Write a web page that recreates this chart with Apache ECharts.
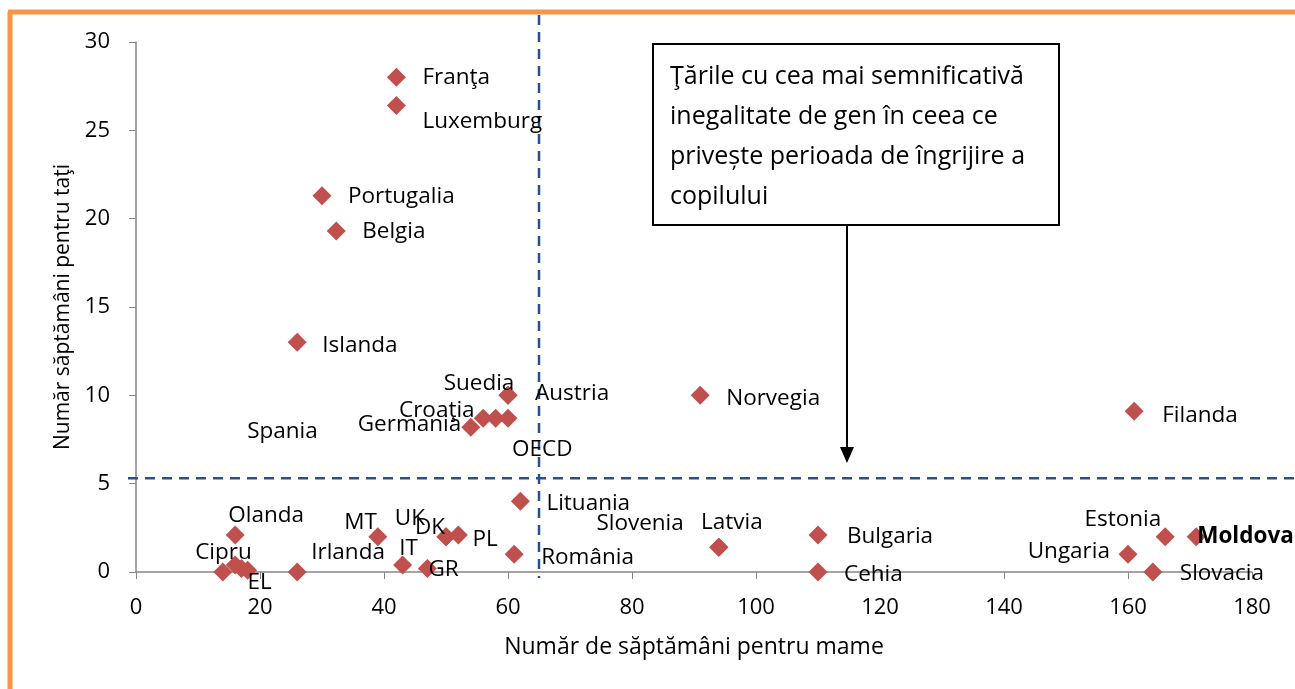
<!DOCTYPE html>
<html>
<head>
<meta charset="utf-8">
<script src="https://cdn.jsdelivr.net/npm/echarts@6/dist/echarts.min.js"></script>
<style>
  html, body { margin: 0; padding: 0; background: #fff; }
  #chart { width: 1295px; height: 689px; }
</style>
</head>
<body>
<div id="chart"></div>
<script>
// date: săptămâni pentru mame (x) și pentru taţi (y)
const countries = ['Franţa', 'Luxemburg', 'Portugalia', 'Belgia', 'Islanda', 'Suedia', 'Austria', 'Norvegia',
    'Filanda', 'Spania', 'Germania', 'Croaţia', 'OECD', 'Lituania', 'România', 'UK', 'DK', 'PL', 'MT', 'IT',
    'GR', 'Irlanda', 'Olanda', 'Cipru', '', '', 'EL', 'Slovenia', 'Latvia', 'Bulgaria', 'Cehia', 'Estonia',
    'Moldova', 'Ungaria', 'Slovacia'];
const weeksMothers = [42, 42, 30, 32.3, 26, 60, 60, 91,
    161, 54, 56, 58, 60, 62, 61, 50, 50, 52, 39, 43,
    47, 26, 16, 14, 16, 17, 18, 94, 94, 110, 110, 166,
    171, 160, 164];
const weeksFathers = [28, 26.4, 21.3, 19.3, 13, 10, 10, 10,
    9.1, 8.2, 8.7, 8.7, 8.7, 4, 1, 2, 2, 2.1, 2, 0.4,
    0.2, 0, 2.1, 0, 0.4, 0.2, 0.1, 1.4, 1.4, 2.1, 0, 2,
    2, 1, 0];
const xTicks = [0, 20, 40, 60, 80, 100, 120, 140, 160, 180];
const yTicks = [0, 5, 10, 15, 20, 25, 30];
// pragurile (liniile punctate)
const refMothers = 65;
const refFathers = 5.3;

// poziţia etichetelor: [dx, dy, aliniere]
const labelPos = {
    'Franţa': [26, 0, 'left'], 'Luxemburg': [26, 16, 'left'], 'Portugalia': [26, 1, 'left'],
    'Belgia': [26, 1, 'left'], 'Islanda': [25, 3, 'left'], 'Suedia': [-29, -12, 'center'],
    'Austria': [27, -2, 'left'], 'Norvegia': [26, 3, 'left'], 'Filanda': [28, 4, 'left'],
    'Spania': [-153, 4, 'right'], 'Germania': [-22, 6, 'right'], 'Croaţia': [-21, -8, 'right'],
    'OECD': [4, 31, 'left'], 'Lituania': [26, 2, 'left'], 'România': [27, 3, 'left'],
    'UK': [-21, -18, 'right'], 'DK': [-1, -9, 'right'], 'PL': [14, 5, 'left'],
    'MT': [-1, -14, 'right'], 'IT': [6, -16, 'center'], 'GR': [1, 1, 'left'],
    'Irlanda': [14, -19, 'left'], 'Olanda': [-7, -19, 'left'], 'Cipru': [29, -19, 'right'],
    'EL': [0, 12, 'left'], 'Slovenia': [-35, -24, 'right'], 'Latvia': [13, -25, 'center'],
    'Bulgaria': [29, 2, 'left'], 'Cehia': [26, 3, 'left'], 'Estonia': [-4, -17, 'right'],
    'Moldova': [1, 0, 'left'], 'Ungaria': [-18, -3, 'right'], 'Slovacia': [27, 2, 'left']
};

const FONT = 'Open Sans';

const points = countries.map((name, i) => {
    const pos = labelPos[name];
    const item = { name: name, value: [weeksMothers[i], weeksFathers[i]] };
    if (pos) {
        item.label = {
            show: true, position: 'inside', offset: [pos[0], pos[1]], align: pos[2],
            verticalAlign: 'middle', formatter: '{b}', color: '#000',
            fontFamily: FONT, fontSize: 22.5, fontWeight: name === 'Moldova' ? 'bold' : 'normal'
        };
    } else {
        item.label = { show: false };
    }
    return item;
});

const chart = echarts.init(document.getElementById('chart'));

const option = {
    animation: false,
    backgroundColor: '#fff',
    grid: { left: 136, right: 43, top: 42, bottom: 117 },
    xAxis: {
        type: 'value', min: 0, max: 180, interval: 20,
        name: 'Număr de săptămâni pentru mame', nameLocation: 'middle', nameGap: 64,
        nameTextStyle: { fontFamily: FONT, fontSize: 23, color: '#000' },
        axisLine: { show: true, onZero: false, lineStyle: { color: '#868686', width: 1.5 } },
        axisTick: { show: true, length: 7, lineStyle: { color: '#868686' } },
        axisLabel: { margin: 25, fontFamily: FONT, fontSize: 22, color: '#000',
            formatter: v => xTicks.includes(v) ? String(v) : '' },
        splitLine: { show: false }
    },
    yAxis: {
        type: 'value', min: 0, max: 30, interval: 5,
        name: 'Număr săptămâni pentru taţi', nameLocation: 'middle', nameGap: 62,
        nameTextStyle: { fontFamily: FONT, fontSize: 21, color: '#000' },
        axisLine: { show: true, onZero: false, lineStyle: { color: '#868686', width: 1.5 } },
        axisTick: { show: true, length: 7, lineStyle: { color: '#868686' } },
        axisLabel: { margin: 26, fontFamily: FONT, fontSize: 22, color: '#000',
            formatter: v => yTicks.includes(v) ? String(v) : '' },
        splitLine: { show: false }
    },
    series: [
        {
            type: 'scatter', symbol: 'diamond', symbolSize: 19, z: 3,
            itemStyle: { color: '#C0504D', opacity: 1 },
            data: points
        }
    ]
};

chart.setOption(option);

// liniile punctate ale pragurilor, poziţionate prin scala axelor
const vx = chart.convertToPixel({ gridIndex: 0 }, [refMothers, 0]);
const hy = chart.convertToPixel({ gridIndex: 0 }, [0, refFathers]);
const dash = { stroke: '#27508F', lineWidth: 2.5, lineDash: [10, 7] };

chart.setOption({
    graphic: [
        { type: 'line', z: 1, shape: { x1: vx[0], y1: 15, x2: vx[0], y2: vx[1] + 6 }, style: dash },
        { type: 'line', z: 1, shape: { x1: hy[0] - 8, y1: hy[1], x2: 1295, y2: hy[1] }, style: dash },
        // chenar portocaliu
        { type: 'line', shape: { x1: 10, y1: 12, x2: 10, y2: 689 }, style: { stroke: '#F79646', lineWidth: 5 }, z: 10 },
        { type: 'line', shape: { x1: 8, y1: 12, x2: 1295, y2: 12 }, style: { stroke: '#F79646', lineWidth: 5 }, z: 10 },
        // caseta de text
        { type: 'rect', shape: { x: 653, y: 44, width: 406, height: 181 },
          style: { fill: '#fff', stroke: '#000', lineWidth: 2 }, z: 10 },
        { type: 'text', x: 670, y: 57, z: 11,
          style: {
              text: 'Ţările cu cea mai semnificativă\ninegalitate de gen în ceea ce\nprivește perioada de îngrijire a\ncopilului',
              font: '25px "Open Sans"', fill: '#000', lineHeight: 40
          } },
        // săgeata
        { type: 'line', shape: { x1: 847, y1: 225, x2: 847, y2: 450 }, style: { stroke: '#000', lineWidth: 2 }, z: 10 },
        { type: 'polygon', shape: { points: [[840, 447], [854, 447], [847, 463]] }, style: { fill: '#000' }, z: 10 }
    ]
});
</script>
</body>
</html>
